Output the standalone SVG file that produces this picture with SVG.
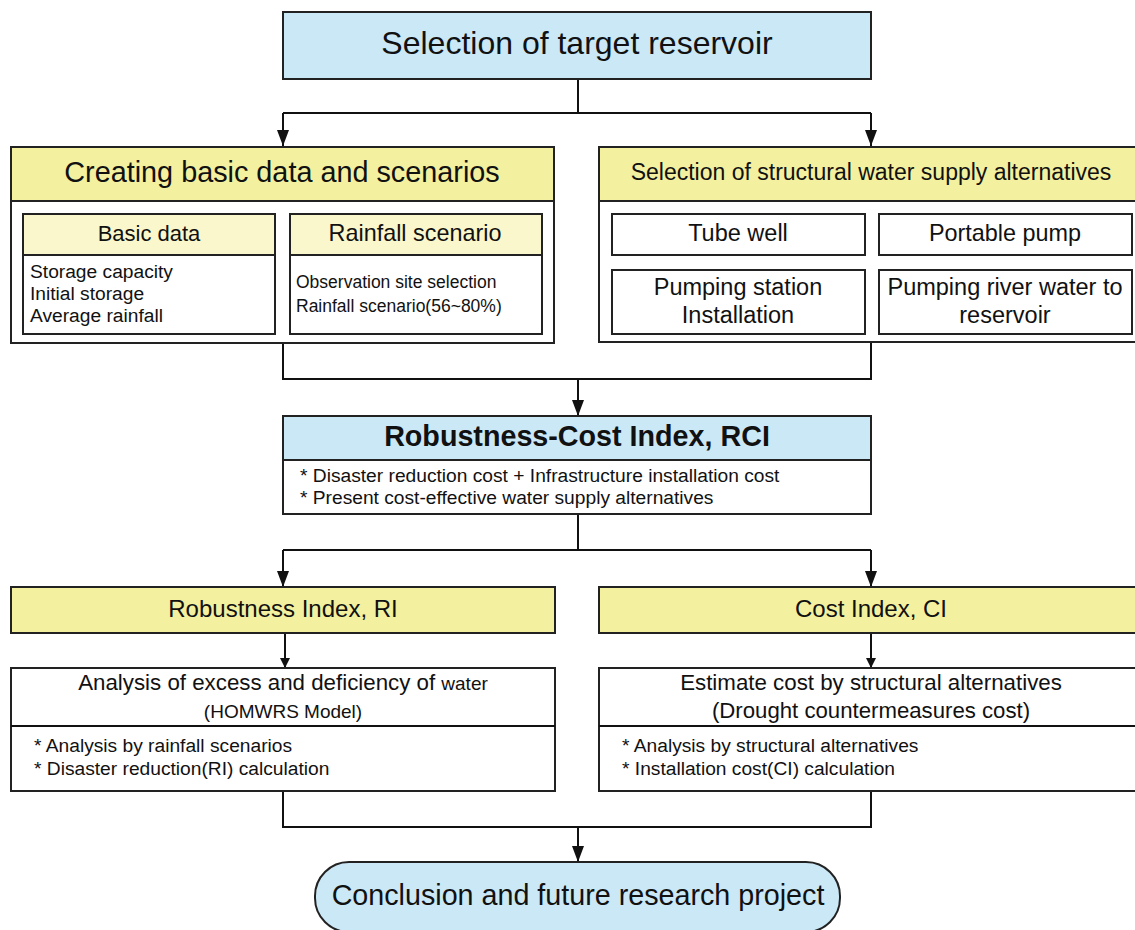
<svg xmlns="http://www.w3.org/2000/svg" width="1135" height="930" viewBox="0 0 1135 930">
<style>
text{font-family:"Liberation Sans",Arial,sans-serif;fill:#111}
.box{stroke:#222;stroke-width:2;fill:#fff}
.blue{fill:#cbe8f7}
.yel{fill:#f3f09f}
.lyel{fill:#fbf7cc}
.ln{fill:none;stroke:#111;stroke-width:2}
.c{text-anchor:middle}
</style>
<defs>
<marker id="ah" viewBox="0 0 16 12" refX="16" refY="6" markerWidth="16" markerHeight="12" markerUnits="userSpaceOnUse" orient="auto"><path d="M0,0 L16,6 L0,12 z" fill="#111"/></marker>
<marker id="as" viewBox="0 0 10 10" refX="10" refY="5" markerWidth="10" markerHeight="10" markerUnits="userSpaceOnUse" orient="auto"><path d="M0,0 L10,5 L0,10 z" fill="#111"/></marker>
</defs>
<g id="connectors">
<path class="ln" d="M578 79 V113 M283 113 H871"/>
<path class="ln" d="M283 113 V146" marker-end="url(#ah)"/>
<path class="ln" d="M871 113 V146" marker-end="url(#ah)"/>
<path class="ln" d="M283 343 V379 H871 V343"/>
<path class="ln" d="M578 379 V416" marker-end="url(#ah)"/>
<path class="ln" d="M578 514 V550 M283 550 H871"/>
<path class="ln" d="M283 550 V587" marker-end="url(#ah)"/>
<path class="ln" d="M871 550 V587" marker-end="url(#ah)"/>
<path class="ln" d="M285 633 V668" marker-end="url(#as)"/>
<path class="ln" d="M871 633 V668" marker-end="url(#as)"/>
<path class="ln" d="M283 791 V827 H871 V791"/>
<path class="ln" d="M578 827 V862" marker-end="url(#ah)"/>
</g>
<g id="target">
<rect class="box blue" x="283" y="12" width="588" height="67"/>
<text class="c" x="577" y="54" font-size="32">Selection of target reservoir</text>
</g>
<g id="basic-scenarios">
<rect class="box" x="11" y="147" width="543" height="196"/>
<rect class="box yel" x="11" y="147" width="543" height="54"/>
<text class="c" x="282" y="182" font-size="28.8">Creating basic data and scenarios</text>
</g>
<g id="basic-data">
<rect class="box" x="23" y="214" width="252" height="120"/>
<rect class="box lyel" x="23" y="214" width="252" height="41"/>
<text class="c" x="149" y="241" font-size="22">Basic data</text>
<text x="30" y="278" font-size="19.2">Storage capacity</text>
<text x="30" y="300" font-size="19.2">Initial storage</text>
<text x="30" y="322" font-size="19.2">Average rainfall</text>
</g>
<g id="rainfall-scenario">
<rect class="box" x="290" y="214" width="252" height="120"/>
<rect class="box lyel" x="290" y="214" width="252" height="41"/>
<text class="c" x="415" y="241" font-size="23.4">Rainfall scenario</text>
<text x="296" y="288" font-size="17.5">Observation site selection</text>
<text x="296" y="312" font-size="17.5">Rainfall scenario(56~80%)</text>
</g>
<g id="structural">
<rect class="box" x="599" y="147" width="541" height="195"/>
<rect class="box yel" x="599" y="147" width="541" height="54"/>
<text class="c" x="871" y="180" font-size="23">Selection of structural water supply alternatives</text>
</g>
<g id="tube-well">
<rect class="box" x="612" y="214" width="253" height="41"/>
<text class="c" x="738" y="241" font-size="23.5">Tube well</text>
</g>
<g id="portable-pump">
<rect class="box" x="879" y="214" width="253" height="41"/>
<text class="c" x="1005" y="241" font-size="23.4">Portable pump</text>
</g>
<g id="pumping-station">
<rect class="box" x="612" y="270" width="253" height="64"/>
<text class="c" x="738" y="295" font-size="23.5">Pumping station</text>
<text class="c" x="738" y="323" font-size="23.5">Installation</text>
</g>
<g id="pumping-river">
<rect class="box" x="879" y="270" width="253" height="64"/>
<text class="c" x="1005" y="295" font-size="23.5">Pumping river water to</text>
<text class="c" x="1005" y="323" font-size="23.5">reservoir</text>
</g>
<g id="rci">
<rect class="box" x="283" y="416" width="588" height="98"/>
<rect class="box blue" x="283" y="416" width="588" height="44"/>
<text class="c" x="577" y="446" font-size="28.7" font-weight="bold">Robustness-Cost Index, RCI</text>
<text x="300" y="482" font-size="19.2">* Disaster reduction cost + Infrastructure installation cost</text>
<text x="300" y="504" font-size="19.2">* Present cost-effective water supply alternatives</text>
</g>
<g id="ri">
<rect class="box yel" x="11" y="587" width="544" height="46"/>
<text class="c" x="283" y="617" font-size="24">Robustness Index, RI</text>
</g>
<g id="ci">
<rect class="box yel" x="599" y="587" width="541" height="46"/>
<text class="c" x="871" y="617" font-size="24">Cost Index, CI</text>
</g>
<g id="analysis">
<rect class="box" x="11" y="668" width="544" height="123"/>
<line class="ln" x1="11" y1="726" x2="555" y2="726"/>
<text class="c" x="283" y="690" font-size="22.3">Analysis of excess and deficiency of <tspan font-size="19">water</tspan></text>
<text class="c" x="283" y="718" font-size="19">(HOMWRS Model)</text>
<text x="34" y="752" font-size="19.2">* Analysis by rainfall scenarios</text>
<text x="34" y="775" font-size="19.2">* Disaster reduction(RI) calculation</text>
</g>
<g id="estimate">
<rect class="box" x="599" y="668" width="541" height="123"/>
<line class="ln" x1="599" y1="726" x2="1140" y2="726"/>
<text class="c" x="871" y="690" font-size="22.3">Estimate cost by structural alternatives</text>
<text class="c" x="871" y="718" font-size="22.2">(Drought countermeasures cost)</text>
<text x="622" y="752" font-size="19.2">* Analysis by structural alternatives</text>
<text x="622" y="775" font-size="19.2">* Installation cost(CI) calculation</text>
</g>
<g id="conclusion">
<rect class="box blue" x="315" y="862" width="525" height="70" rx="34" ry="34"/>
<text class="c" x="578" y="905" font-size="28.7">Conclusion and future research project</text>
</g>
</svg>
